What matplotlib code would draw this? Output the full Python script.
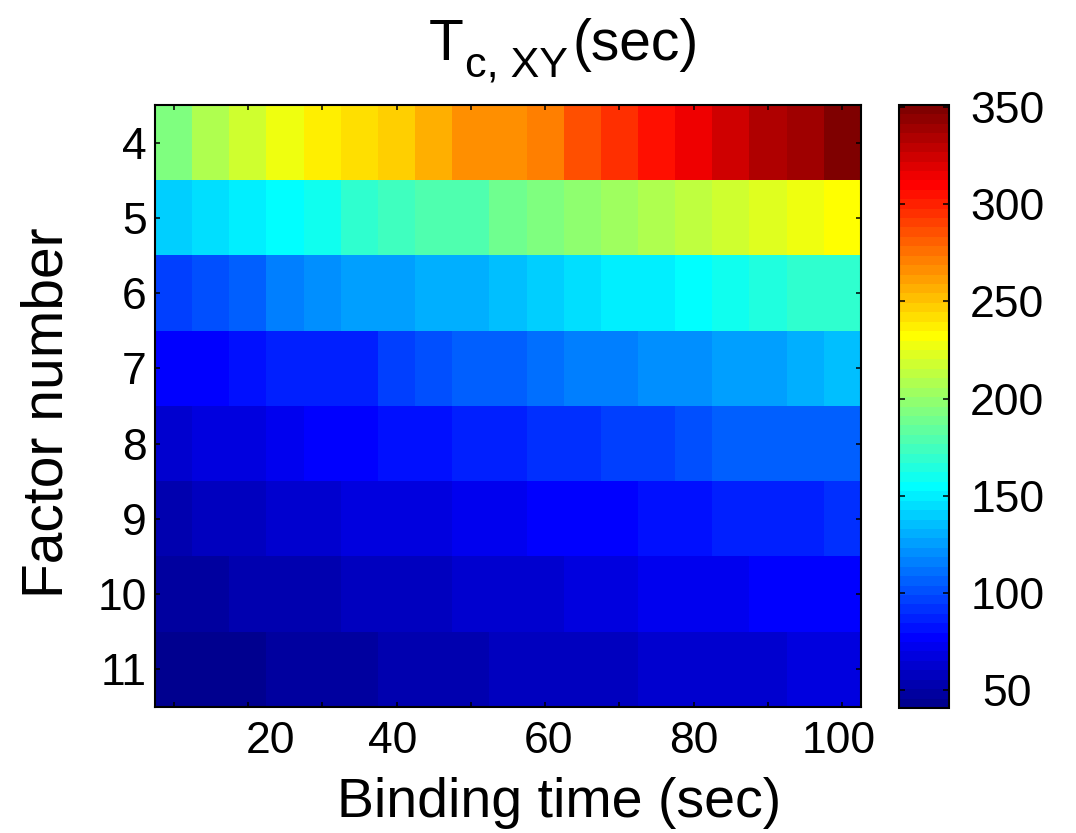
import numpy as np
import matplotlib
matplotlib.use("Agg")
import matplotlib.pyplot as plt
from matplotlib.colors import ListedColormap

plt.rcParams['font.family'] = ['Liberation Sans', 'DejaVu Sans']

# binding time of each column (sec) and factor number of each row
binding_time = [10, 15, 20, 25, 30, 35, 40, 45, 50, 55, 60, 65, 70, 75, 80, 85, 90, 95, 100]
factor_number = [4, 5, 6, 7, 8, 9, 10, 11]

# T_c,XY (sec) for each factor number, across binding times
tc_4 = [193, 208, 218, 227, 237, 242, 247, 256, 266, 266, 271, 286, 295, 305, 315, 324, 334, 339, 351]
tc_5 = [140, 145, 150, 154, 159, 169, 174, 179, 179, 188, 193, 198, 203, 208, 213, 218, 222, 227, 232]
tc_6 = [96, 101, 106, 116, 121, 125, 125, 130, 130, 135, 140, 145, 150, 150, 154, 159, 164, 169, 169]
tc_7 = [77, 77, 82, 87, 87, 87, 96, 101, 106, 106, 111, 116, 116, 121, 121, 125, 125, 130, 135]
tc_8 = [62, 67, 67, 72, 77, 77, 82, 82, 87, 87, 91, 91, 96, 96, 101, 106, 106, 106, 106]
tc_9 = [53, 57, 57, 62, 62, 67, 67, 67, 72, 72, 77, 77, 77, 82, 82, 87, 87, 87, 91]
tc_10 = [48, 48, 53, 53, 53, 57, 57, 57, 62, 62, 62, 67, 67, 72, 72, 72, 77, 77, 77]
tc_11 = [41, 41, 41, 48, 48, 48, 53, 53, 53, 57, 57, 57, 57, 62, 62, 62, 62, 67, 67]

# x tick labels and where they sit on the binding-time axis
xlabel_text = ['20', '40', '60', '80', '100']
xlabel_pos = [23, 39.5, 60.5, 80, 99.5]
cbar_ticks = [50, 100, 150, 200, 250, 300, 350]

data = np.array([tc_4, tc_5, tc_6, tc_7, tc_8, tc_9, tc_10, tc_11])

# 64-level jet, same steps as the classic MATLAB one
k = np.arange(1, 65)
red = np.clip(np.minimum(k - 24, 72 - k) / 16, 0, 1)
green = np.clip(np.minimum(k - 8, 56 - k) / 16, 0, 1)
blue = np.clip(np.minimum(k + 8, 40 - k) / 16, 0, 1)
jet64 = ListedColormap(np.column_stack([red, green, blue]))

fig = plt.figure(figsize=(10.76, 8.33), dpi=100)
ax = fig.add_axes([155 / 1076, 126 / 833, 706 / 1076, 602 / 833])

step = binding_time[1] - binding_time[0]
extent = [binding_time[0] - step / 2, binding_time[-1] + step / 2,
          factor_number[-1] + 0.5, factor_number[0] - 0.5]
im = ax.imshow(data, cmap=jet64, vmin=data.min(), vmax=data.max(),
               aspect='auto', interpolation='nearest', extent=extent)

ax.set_yticks(factor_number)
ax.set_xticks(binding_time[::2])
ax.set_xticklabels([])
# labels live on zero-length minor ticks; keep the ones that share a major spot
ax.xaxis.remove_overlapping_locs = False
ax.set_xticks(xlabel_pos, xlabel_text, minor=True)
ax.tick_params(which='major', direction='in', length=3.6, width=1.1,
               top=True, right=True, labelsize=32)
ax.tick_params(axis='y', pad=6)
ax.tick_params(axis='x', which='minor', length=0, pad=10, labelsize=32,
               top=False, bottom=True)
for sp in ax.spines.values():
    sp.set_linewidth(1.5)

cax = fig.add_axes([899 / 1076, 125 / 833, 50 / 1076, 603 / 833])
cb = fig.colorbar(im, cax=cax, ticks=cbar_ticks)
cb.outline.set_linewidth(1.5)
cax.tick_params(direction='in', length=4.3, width=1.1, left=True, right=True,
                labelsize=32, pad=42)
for t in cax.get_yticklabels():
    t.set_ha('center')

# title with subscript
fig.text(429 / 1076, 1 - 60 / 833, "T", ha='left', va='baseline', fontsize=41)
fig.text(465 / 1076, 1 - 76 / 833, "c, XY", ha='left', va='baseline', fontsize=31)
fig.text(573 / 1076, 1 - 60 / 833, "(sec)", ha='left', va='baseline', fontsize=41)

fig.text(559 / 1076, 1 - 817 / 833, "Binding time (sec)", ha='center',
         va='baseline', fontsize=40)
fig.text(63 / 1076, 1 - 413 / 833, "Factor number", rotation=90,
         rotation_mode='anchor', ha='center', va='baseline', fontsize=41)

fig.savefig('out.png', dpi=100)
